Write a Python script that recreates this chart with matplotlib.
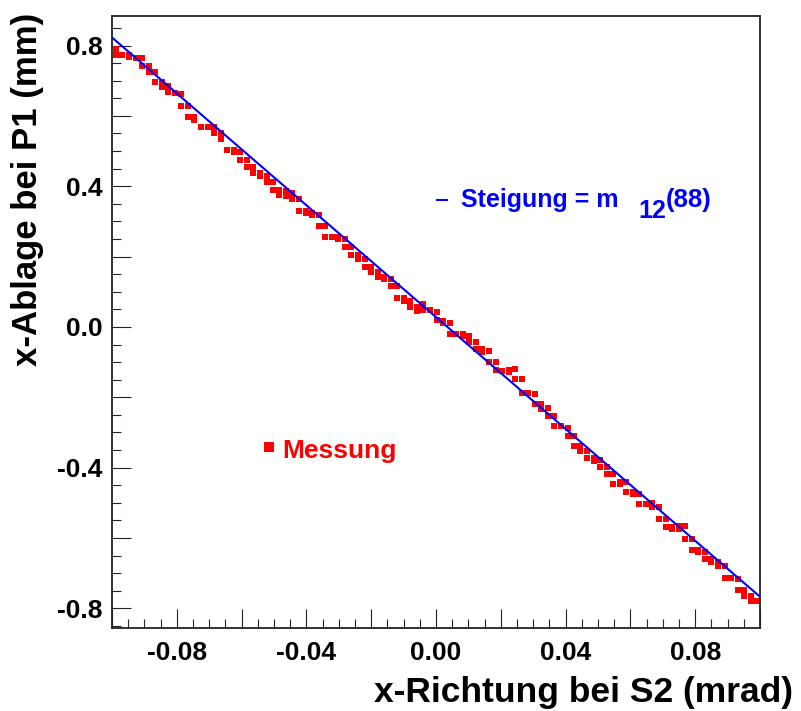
import numpy as np
import matplotlib
matplotlib.use("Agg")
import matplotlib.pyplot as plt
from matplotlib.ticker import MultipleLocator, FuncFormatter

plt.rcParams['font.family'] = ['Liberation Sans', 'DejaVu Sans']
plt.rcParams['font.weight'] = 'bold'
plt.rcParams['axes.labelweight'] = 'bold'

# Messpunkte: je Spalte ein oberer und ein unterer Wert (gleich, wenn nur ein Punkt)
spalten_x = [-0.0988, -0.0968, -0.0948, -0.0927, -0.0907, -0.0887, -0.0867, -0.0847, -0.0826, -0.0806,
             -0.0786, -0.0766, -0.0746, -0.0725, -0.0705, -0.0685, -0.0665, -0.0645, -0.0624, -0.0604,
             -0.0584, -0.0564, -0.0544, -0.0523, -0.0503, -0.0483, -0.0463, -0.0443, -0.0422, -0.0402,
             -0.0382, -0.0362, -0.0342, -0.0321, -0.0301, -0.0281, -0.0261, -0.0241, -0.0220, -0.0200,
             -0.0180, -0.0160, -0.0140, -0.0119, -0.0099, -0.0079, -0.0059, -0.0039, -0.0018, 0.0002,
             0.0022, 0.0042, 0.0062, 0.0083, 0.0103, 0.0123, 0.0143, 0.0163, 0.0184, 0.0204,
             0.0224, 0.0244, 0.0264, 0.0285, 0.0305, 0.0325, 0.0345, 0.0365, 0.0386, 0.0406,
             0.0426, 0.0446, 0.0466, 0.0487, 0.0507, 0.0527, 0.0547, 0.0567, 0.0588, 0.0608,
             0.0628, 0.0648, 0.0668, 0.0689, 0.0709, 0.0729, 0.0749, 0.0769, 0.0790, 0.0810,
             0.0830, 0.0850, 0.0870, 0.0891, 0.0911, 0.0931, 0.0951, 0.0971, 0.0992]
y_oben = [0.791, 0.772, 0.774, 0.766, 0.764, 0.742, 0.724, 0.696, 0.685, 0.665,
          0.662, 0.628, 0.596, 0.568, 0.568, 0.568, 0.551, 0.502, 0.502, 0.497,
          0.474, 0.454, 0.437, 0.430, 0.411, 0.389, 0.387, 0.382, 0.363, 0.329,
          0.323, 0.317, 0.286, 0.255, 0.255, 0.251, 0.227, 0.204, 0.194, 0.170,
          0.155, 0.143, 0.137, 0.116, 0.082, 0.075, 0.056, 0.066, 0.047, 0.042,
          0.018, 0.011, -0.019, -0.019, -0.027, -0.043, -0.063, -0.069, -0.099, -0.124,
          -0.122, -0.120, -0.149, -0.188, -0.191, -0.219, -0.231, -0.253, -0.283, -0.288,
          -0.309, -0.338, -0.354, -0.373, -0.378, -0.399, -0.419, -0.441, -0.441, -0.470,
          -0.476, -0.503, -0.501, -0.513, -0.547, -0.570, -0.565, -0.565, -0.604, -0.635,
          -0.641, -0.660, -0.669, -0.681, -0.714, -0.717, -0.749, -0.766, -0.780]
y_unten = [0.772, 0.772, 0.767, 0.766, 0.742, 0.724, 0.696, 0.683, 0.667, 0.665,
           0.628, 0.596, 0.587, 0.568, 0.568, 0.551, 0.534, 0.502, 0.497, 0.474,
           0.454, 0.438, 0.430, 0.411, 0.389, 0.375, 0.373, 0.363, 0.329, 0.323,
           0.317, 0.286, 0.255, 0.255, 0.251, 0.227, 0.204, 0.194, 0.170, 0.155,
           0.143, 0.137, 0.116, 0.082, 0.075, 0.056, 0.045, 0.049, 0.047, 0.020,
           0.011, -0.021, -0.019, -0.027, -0.043, -0.063, -0.070, -0.099, -0.122, -0.124,
           -0.129, -0.149, -0.188, -0.188, -0.219, -0.232, -0.253, -0.281, -0.283, -0.309,
           -0.338, -0.354, -0.373, -0.380, -0.399, -0.419, -0.447, -0.447, -0.470, -0.476,
           -0.503, -0.503, -0.513, -0.547, -0.570, -0.574, -0.575, -0.604, -0.635, -0.641,
           -0.660, -0.669, -0.681, -0.714, -0.714, -0.749, -0.766, -0.780, -0.780]

# Fitgerade
fit_steigung = -7.95
fit_offset = 0.028

x_bereich = (-0.1, 0.1)
y_bereich = (-0.856, 0.884)

fig = plt.figure(figsize=(8.01, 7.11), dpi=100)
ax = fig.add_axes([0.1398, 0.1167, 0.8090, 0.8608])

ax.plot(spalten_x, y_oben, 's', color='#ff0000', ms=3.7, mew=0)
ax.plot(spalten_x, y_unten, 's', color='#ff0000', ms=3.7, mew=0)

fx = np.array(x_bereich)
ax.plot(fx, fit_offset + fit_steigung * fx, color='#0000ff', lw=1.5)

ax.set_xlim(*x_bereich)
ax.set_ylim(*y_bereich)

# Achsen im ROOT-Stil
ax.xaxis.set_major_locator(MultipleLocator(0.02))
ax.xaxis.set_minor_locator(MultipleLocator(0.005))
ax.yaxis.set_major_locator(MultipleLocator(0.2))
ax.yaxis.set_minor_locator(MultipleLocator(0.05))


def fmt_x(v, pos):
    n = round(v / 0.02)
    return f"{v:.2f}".replace("-0.00", "0.00") if n % 2 == 0 else ""


def fmt_y(v, pos):
    n = round(v / 0.2)
    return f"{v:.1f}".replace("-0.0", "0.0") if n % 2 == 0 else ""


ax.xaxis.set_major_formatter(FuncFormatter(fmt_x))
ax.yaxis.set_major_formatter(FuncFormatter(fmt_y))
ax.tick_params(which='both', direction='in', top=False, right=False, width=0.8, color='#222222')
ax.tick_params(which='major', length=13.5)
ax.tick_params(which='minor', length=6.5)
ax.tick_params(axis='x', which='major', pad=9, labelsize=19)
ax.tick_params(axis='y', which='major', pad=7, labelsize=19)
for s in ax.spines.values():
    s.set_linewidth(1.3)
    s.set_color('#222222')

ax.set_xlabel("x-Richtung bei S2 (mrad)", fontsize=25.5, fontweight='bold', loc='right')
ax.xaxis.set_label_coords(1.051, -0.078)
ax.set_ylabel("x-Ablage bei P1 (mm)", fontsize=25, fontweight='bold', loc='top')
ax.yaxis.set_label_coords(-0.105, 1.005)

# Beschriftungen
ax.plot([0.2430], [0.2958], 's', color='#ff0000', ms=6.5, mew=0, transform=ax.transAxes)
ax.text(0.2623, 0.2773, "Messung", color='#ff0000', fontsize=19, va='baseline', ha='left',
        transform=ax.transAxes)

ax.plot([0.502, 0.517], [0.699, 0.699], color='#0000ff', lw=1.5, transform=ax.transAxes)
t1 = ax.text(0.5386, 0.6874, "Steigung = m", color='#0000ff', fontsize=18, va='baseline',
             ha='left', transform=ax.transAxes)
fig.canvas.draw()
bb = t1.get_window_extent().transformed(ax.transAxes.inverted())
t2 = ax.text(bb.x1 + 0.03, 0.6695, "12", color='#0000ff', fontsize=18, va='baseline',
             ha='left', transform=ax.transAxes)
fig.canvas.draw()
bb2 = t2.get_window_extent().transformed(ax.transAxes.inverted())
ax.text(bb2.x1, 0.6874, "(88)", color='#0000ff', fontsize=18.5, va='baseline', ha='left',
        transform=ax.transAxes)

fig.savefig("out.png", dpi=100)
